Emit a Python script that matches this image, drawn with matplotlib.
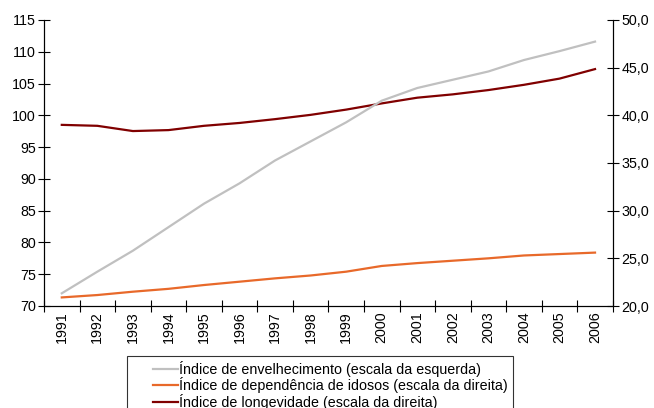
import matplotlib
matplotlib.use('agg')
import matplotlib.pyplot as plt
from matplotlib.legend_handler import HandlerLine2D

years = [str(y) for y in range(1991, 2007)]

# left scale
envelhecimento = [72.0, 75.4, 78.7, 82.4, 86.1, 89.3, 92.9, 95.9, 98.9, 102.3,
                  104.3, 105.6, 106.9, 108.7, 110.1, 111.6]
# right scale
dependencia = [20.9, 21.15, 21.5, 21.8, 22.2, 22.55, 22.9, 23.2, 23.6, 24.2,
               24.5, 24.75, 25.0, 25.3, 25.45, 25.6]
longevidade = [39.0, 38.9, 38.35, 38.45, 38.9, 39.2, 39.6, 40.05, 40.6, 41.25,
               41.85, 42.2, 42.65, 43.2, 43.85, 44.85]

labels = ["Índice de envelhecimento (escala da esquerda)",
          "Índice de dependência de idosos (escala da direita)",
          "Índice de longevidade (escala da direita)"]
colors = ["#C0C0C0", "#E8692A", "#800000"]

plt.rcParams['font.family'] = ['Liberation Sans', 'DejaVu Sans']
plt.rcParams['font.size'] = 10.3


class ShortLine(HandlerLine2D):
    """Draw legend line only on the right part of the handle box."""
    def create_artists(self, legend, orig_handle, xdescent, ydescent,
                       width, height, fontsize, trans):
        arts = super().create_artists(legend, orig_handle, xdescent, ydescent,
                                      width, height, fontsize, trans)
        yd = arts[0].get_ydata()[0]
        arts[0].set_data([-xdescent + width * 0.47, -xdescent + width], [yd, yd])
        return arts


fig = plt.figure(figsize=(6.54, 4.08), dpi=100)
ax = fig.add_axes([0.0673, 0.25, 0.8697, 0.701])
ax2 = ax.twinx()

x = list(range(len(years)))
l1, = ax.plot(x, envelhecimento, color=colors[0], lw=1.6)
l2, = ax2.plot(x, dependencia, color=colors[1], lw=1.6)
l3, = ax2.plot(x, longevidade, color=colors[2], lw=1.6)

ax.set_xlim(-0.5, len(years) - 0.5)
ax.set_ylim(70, 115)
ax.set_yticks(range(70, 116, 5))
ax2.set_ylim(20, 50)
ax2.set_yticks(range(20, 51, 5))
ax2.set_yticklabels([f"{v},0" for v in range(20, 51, 5)])

ax.set_xticks([i + 0.5 for i in range(-1, len(years))], minor=False)
ax.set_xticklabels([])
ax.set_xticks(x, minor=True)
ax.set_xticklabels(years, minor=True, rotation=90)
ax.tick_params(axis='x', which='minor', length=0, pad=4)
ax.tick_params(axis='x', which='major', direction='inout', length=8, width=0.8)
ax.tick_params(axis='y', direction='inout', length=8, width=0.8, pad=2)
ax2.tick_params(axis='y', direction='inout', length=8, width=0.8, pad=2)

for a in (ax, ax2):
    a.spines['top'].set_visible(False)
    a.set_zorder(1)
ax.set_zorder(2)
ax.patch.set_visible(False)

leg = fig.legend([l1, l2, l3], labels, loc='upper left',
                 bbox_to_anchor=(0.194, 0.128), fontsize=10.3,
                 frameon=True, fancybox=False, edgecolor='black',
                 handlelength=3.2, handletextpad=0.1, labelspacing=0.05,
                 borderpad=0.35, borderaxespad=0,
                 handler_map={l1: ShortLine(), l2: ShortLine(), l3: ShortLine()})
leg.get_frame().set_linewidth(0.8)

fig.savefig("out.png", dpi=100)
